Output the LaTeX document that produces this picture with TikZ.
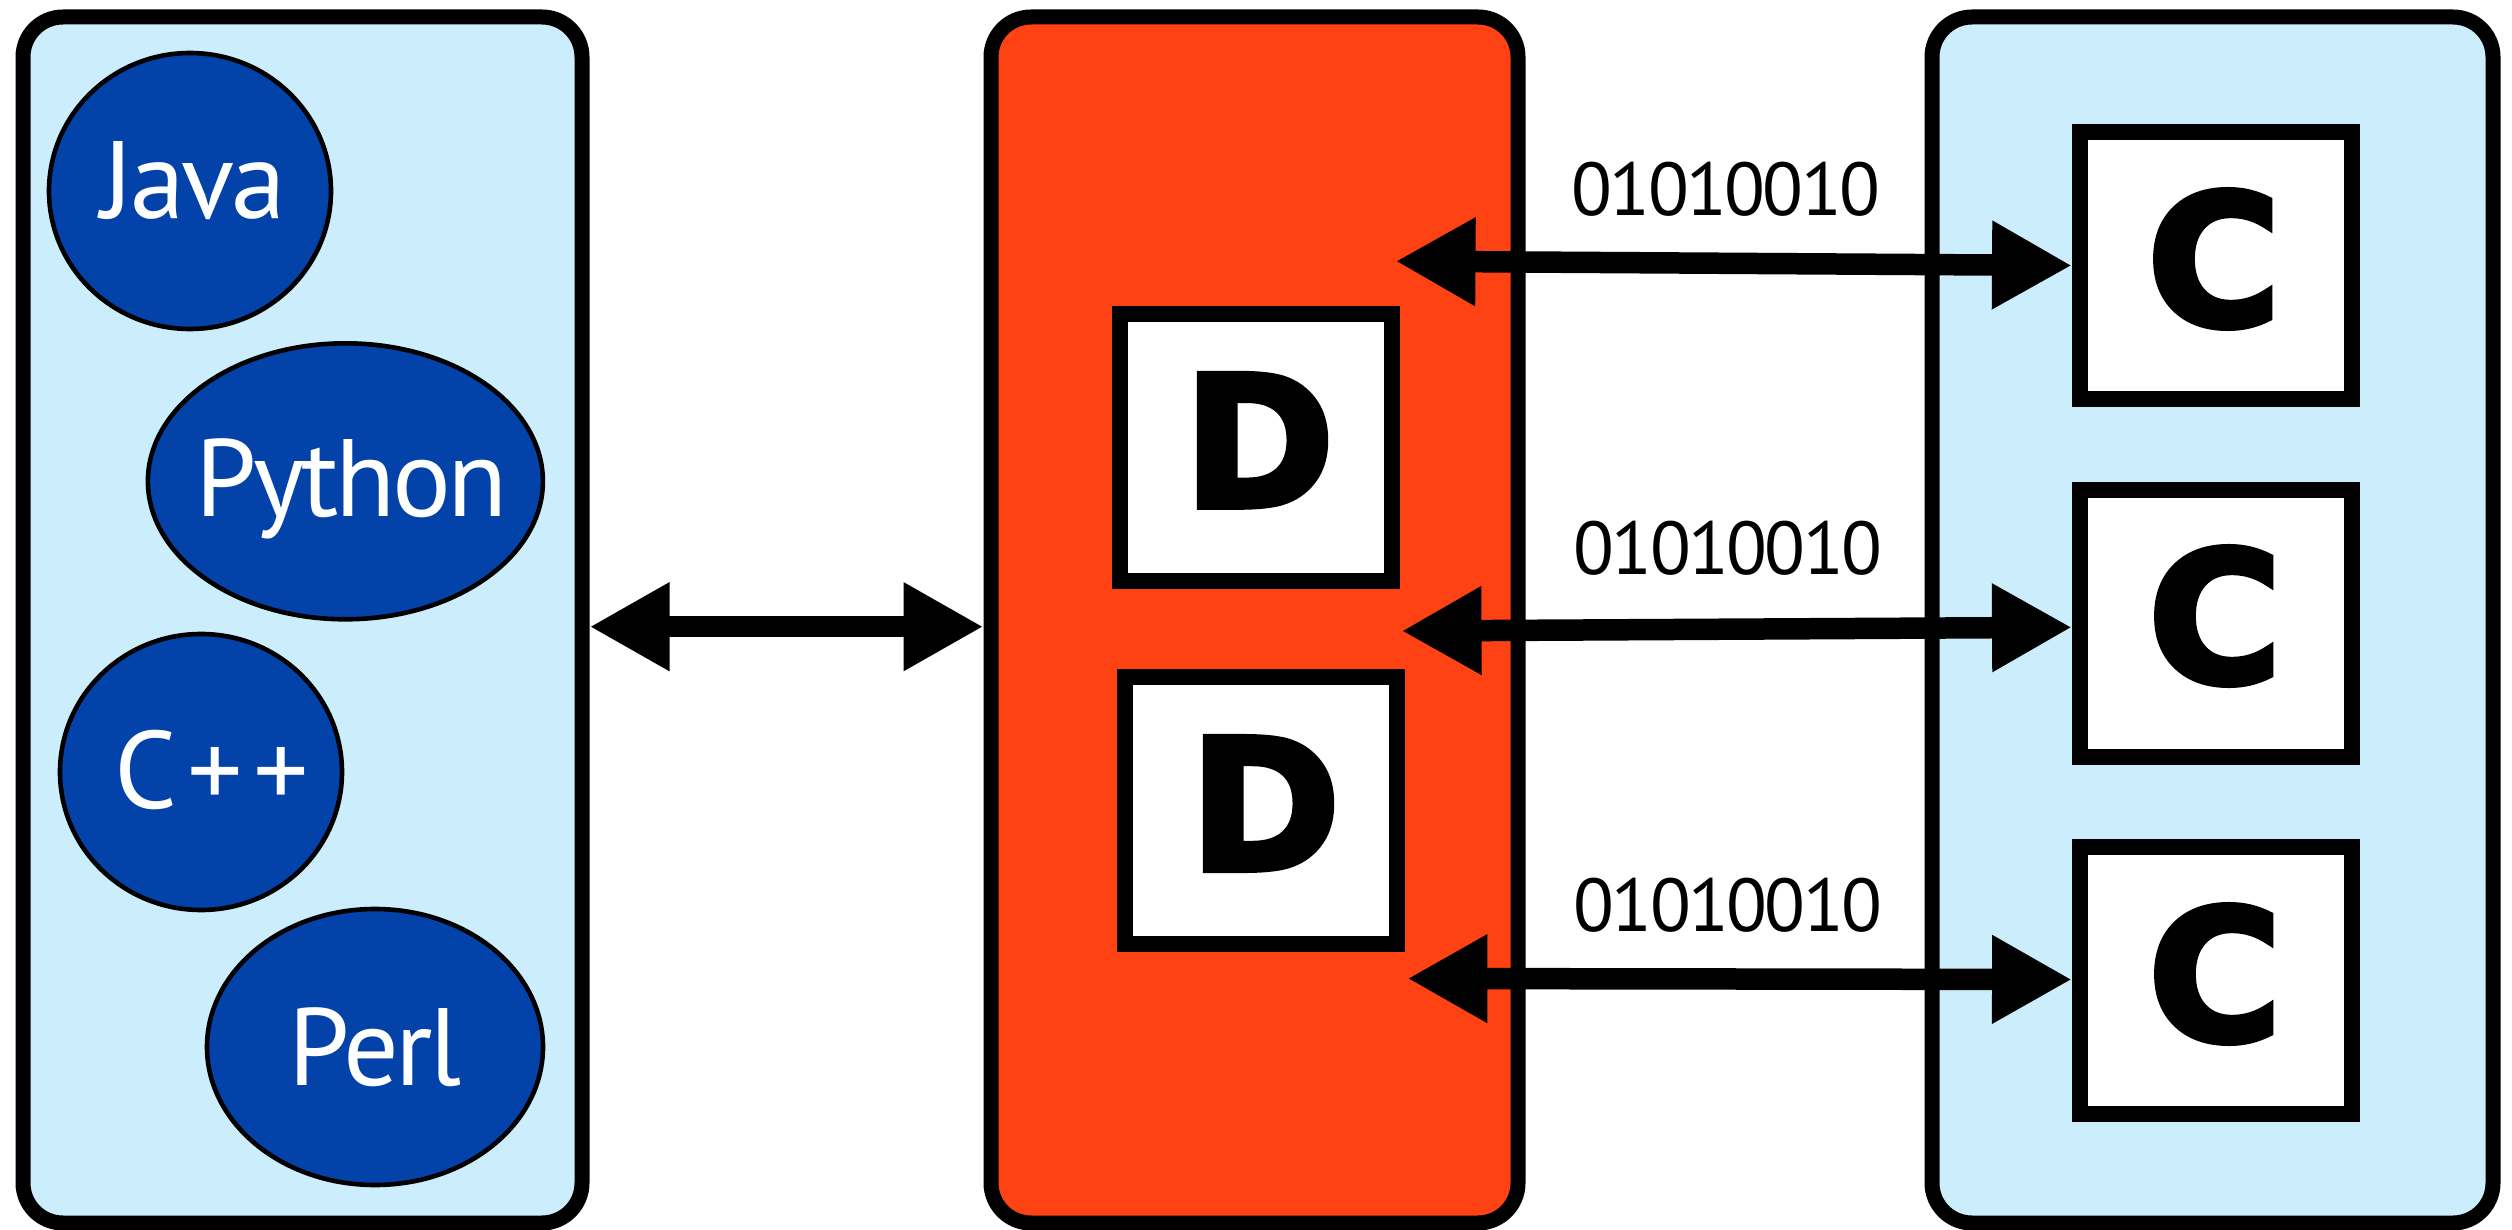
\documentclass[tikz,border=0pt]{standalone}
\usepackage{fontspec}
\usetikzlibrary{arrows.meta,shapes.geometric}
\newfontfamily\gill[LetterSpace=-3]{PT Sans}
\newfontfamily\gillwide[LetterSpace=9]{PT Sans}
\newfontfamily\bitfont[LetterSpace=-3.5]{PT Sans}
\newfontfamily\heavy[FakeBold=3.5]{DejaVu Sans Bold}
\definecolor{panelblue}{HTML}{CCEEFC}
\definecolor{midred}{HTML}{FF4213}
\definecolor{langblue}{HTML}{0343A9}
\begin{document}
\begin{tikzpicture}[x=1pt,y=-1pt,
  panel/.style={draw=black, line width=15pt, rounded corners=40pt, minimum width=#1, minimum height=1206pt, inner sep=0pt},
  lang/.style={ellipse, draw=black, line width=4.6pt, fill=langblue, minimum height=276pt, inner sep=0pt},
  langtext/.style={text=white, font=\gill\fontsize{110}{120}\selectfont, anchor=base, inner sep=0pt},
  box/.style={draw=black, fill=white, line width=16pt, minimum width=272pt, minimum height=267pt, inner sep=0pt},
  letter/.style={font=\heavy\fontsize{182}{190}\selectfont, inner sep=0pt},
  bits/.style={font=\bitfont\fontsize{75}{80}\selectfont, anchor=base, inner sep=0pt},
  link/.style={line width=21.5pt, {Triangle[length=80pt,width=83pt]}-{Triangle[length=80pt,width=83pt]}}
]
\useasboundingbox (0,0) rectangle (2512,1230);
% panels
\node[panel=559pt, fill=panelblue] (lp) at (302.5,620) {};
\node[panel=527pt, fill=midred] (mp) at (1254.5,620) {};
\node[panel=561pt, fill=panelblue] (rp) at (2212.5,620) {};
% languages
\node[lang, minimum width=282pt] (java) at (190,191) {};
\node[lang, minimum width=395pt] (python) at (345.4,481.3) {};
\node[lang, minimum width=282pt] (cpp) at (201,772) {};
\node[lang, minimum width=336pt] (perl) at (375,1047) {};
\node[langtext] (tjava) at (193.5,218.5) {Java};
\node[langtext] (tpython) at (351.5,516) {Python};
\node[langtext, font=\gillwide\fontsize{110}{120}\selectfont] (tcpp) at (211.8,808) {C++};
\node[langtext] (tperl) at (375.4,1085) {Perl};
% D boxes
\node[box] (d1) at (1255.5,447.5) {};
\node[box] (d2) at (1260.9,810) {};
\node[letter] (ld1) at (1259,440.3) {D};
\node[letter] (ld2) at (1265,803.5) {D};
% C boxes
\node[box] (c1) at (2216,265.5) {};
\node[box] (c2) at (2216,623.3) {};
\node[box] (c3) at (2216,980.5) {};
\node[letter] (lc1) at (2214,259) {C};
\node[letter] (lc2) at (2215,616) {C};
\node[letter] (lc3) at (2215,974) {C};
% arrows
\draw[link] ([yshift=-6.7pt]lp.east) -- ([yshift=-6.7pt]mp.west);
\coordinate (a1) at (1395.5,261.2);
\coordinate (a2) at (1401.5,631);
\coordinate (a3) at (1407.4,978.5);
\draw[link] (a1) -- (c1.west);
\draw[link] (a2) -- ([yshift=-4pt]c2.west);
\draw[link] (a3) -- ([yshift=1pt]c3.west);
% bit labels
\node[bits] (b1) at (1726,216) {01010010};
\node[bits] (b2) at (1728,574) {01010010};
\node[bits] (b3) at (1728,931) {01010010};
\end{tikzpicture}
\end{document}
